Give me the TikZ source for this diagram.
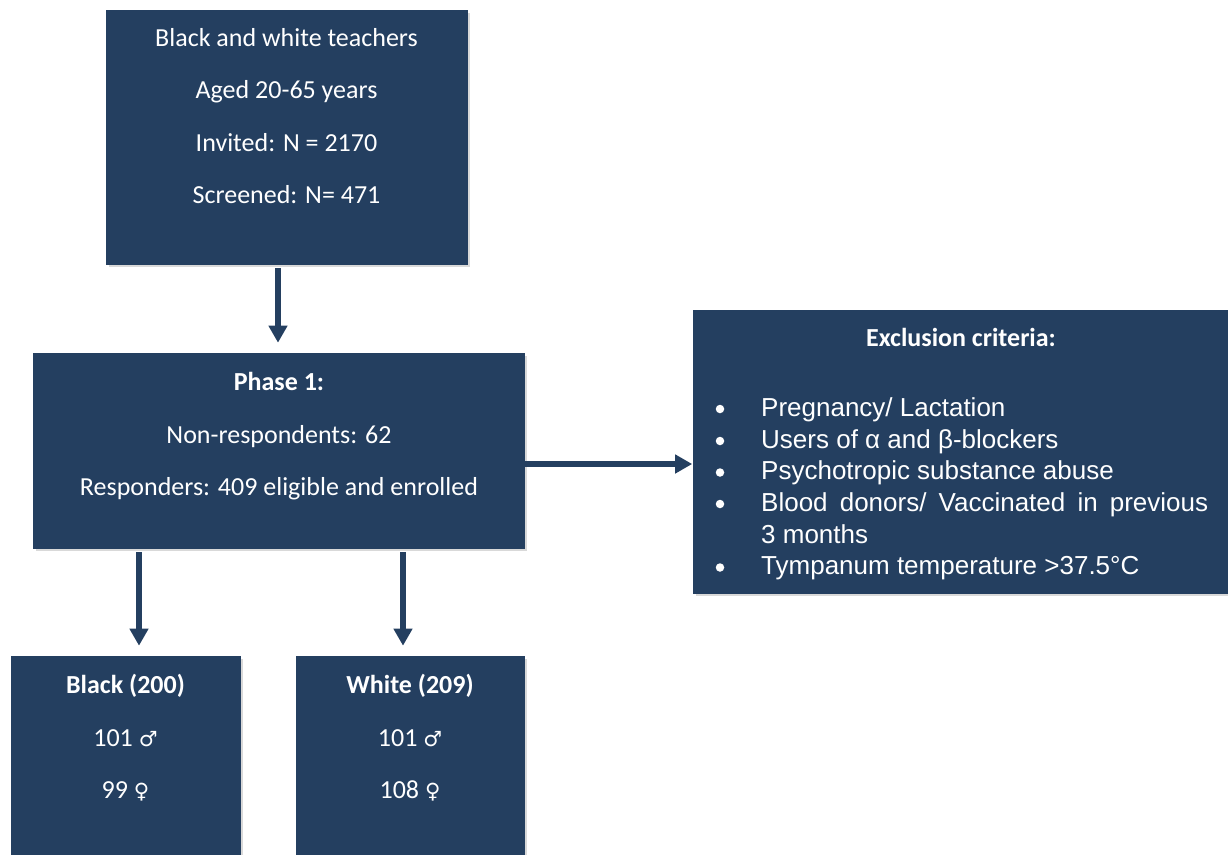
\documentclass[tikz,border=0pt]{standalone}
\usepackage{fontspec}
\setmainfont{Carlito}
\newfontfamily\arialfont{Liberation Sans}
\newfontfamily\symfont{DejaVu Sans}
\newcommand\gendersym{\symfont\fontsize{21}{26}\selectfont}
\usetikzlibrary{arrows.meta,shadows}
\definecolor{navy}{HTML}{243F60}

\begin{document}
\begin{tikzpicture}[x=1pt,y=-1pt,
  box/.style={draw=navy, line width=0.6pt, fill=navy, inner sep=0pt,
    drop shadow={shadow xshift=2.5pt,shadow yshift=-2.5pt,opacity=0.3}},
  txt/.style={text=white, font=\fontsize{26}{31}\selectfont, inner sep=0pt, anchor=base},
  lst/.style={text=white, font=\arialfont\fontsize{26}{32}\selectfont, inner sep=0pt, anchor=base west},
  dot/.style={circle, fill=white, draw=none, minimum size=8.5pt, inner sep=0pt},
  arr/.style={navy, line width=5.5pt, -{Triangle[width=18pt,length=17pt]}}
]
\useasboundingbox (0,0) rectangle (1228,854);

% boxes
\node[box, minimum width=361pt, minimum height=254pt] (top) at (286.5,137) {};
\node[box, minimum width=491pt, minimum height=195pt] (phase) at (278.5,450.5) {};
\node[box, minimum width=535pt, minimum height=283pt] (excl) at (960.5,451.5) {};
\node[box, minimum width=229pt, minimum height=198pt] (black) at (125.5,755) {};
\node[box, minimum width=228pt, minimum height=198pt] (white) at (410,755) {};

% study population
\node[txt] (t1) at (286.5,46) {Black and white teachers};
\node[txt] (t2) at (286.5,98.5) {Aged 20-65 years};
\node[txt] (t3) at (286.5,151) {Invited: N = 2170};
\node[txt] (t4) at (286.5,203.5) {Screened: N= 471};

% phase 1
\node[txt] (p1) at (279,390) {\bfseries Phase 1:};
\node[txt] (p2) at (279,443) {Non-respondents: 62};
\node[txt] (p3) at (279,495.5) {Responders: 409 eligible and enrolled};

% groups
\node[txt] (b1) at (125.5,693.5) {\bfseries Black (200)};
\node[txt] (b2) at (125.5,746.5) {101 {\gendersym ♂}};
\node[txt] (b3) at (125.5,798.5) {99 {\gendersym ♀}};
\node[txt] (w1) at (410,693.5) {\bfseries White (209)};
\node[txt] (w2) at (410,746.5) {101 {\gendersym ♂}};
\node[txt] (w3) at (410,798.5) {108 {\gendersym ♀}};

% exclusion criteria
\node[txt] (e0) at (961,346.5) {\bfseries Exclusion criteria:};
\node[dot] (d1) at (720,409) {};
\node[dot] (d2) at (720,441) {};
\node[dot] (d3) at (720,472.5) {};
\node[dot] (d4) at (720,504) {};
\node[dot] (d5) at (720,567.5) {};
\node[lst] (e1) at (761,416) {Pregnancy/ Lactation};
\node[lst] (e2) at (761,448) {Users of α and β-blockers};
\node[lst] (e3) at (761,479.5) {Psychotropic substance abuse};
\node[lst] (e4) at (761,511) {\makebox[447pt][s]{Blood donors/ Vaccinated in previous}};
\node[lst] (e5) at (761,543) {3 months};
\node[lst] (e6) at (761,574.5) {Tympanum temperature >37.5°C};

% connectors
\coordinate (xa) at (278,0);
\coordinate (xb) at (139,0);
\coordinate (xw) at (403,0);
\coordinate (yh) at (0,464);
\draw[arr, shorten <=4pt, shorten >=10pt] (top.south -| xa) -- (phase.north -| xa);
\draw[arr, shorten <=4pt, shorten >=10pt] (phase.south -| xb) -- (black.north -| xb);
\draw[arr, shorten <=4pt, shorten >=10pt] (phase.south -| xw) -- (white.north -| xw);
\draw[arr, shorten >=0.5pt] (phase.east |- yh) -- (excl.west |- yh);
\end{tikzpicture}
\end{document}
